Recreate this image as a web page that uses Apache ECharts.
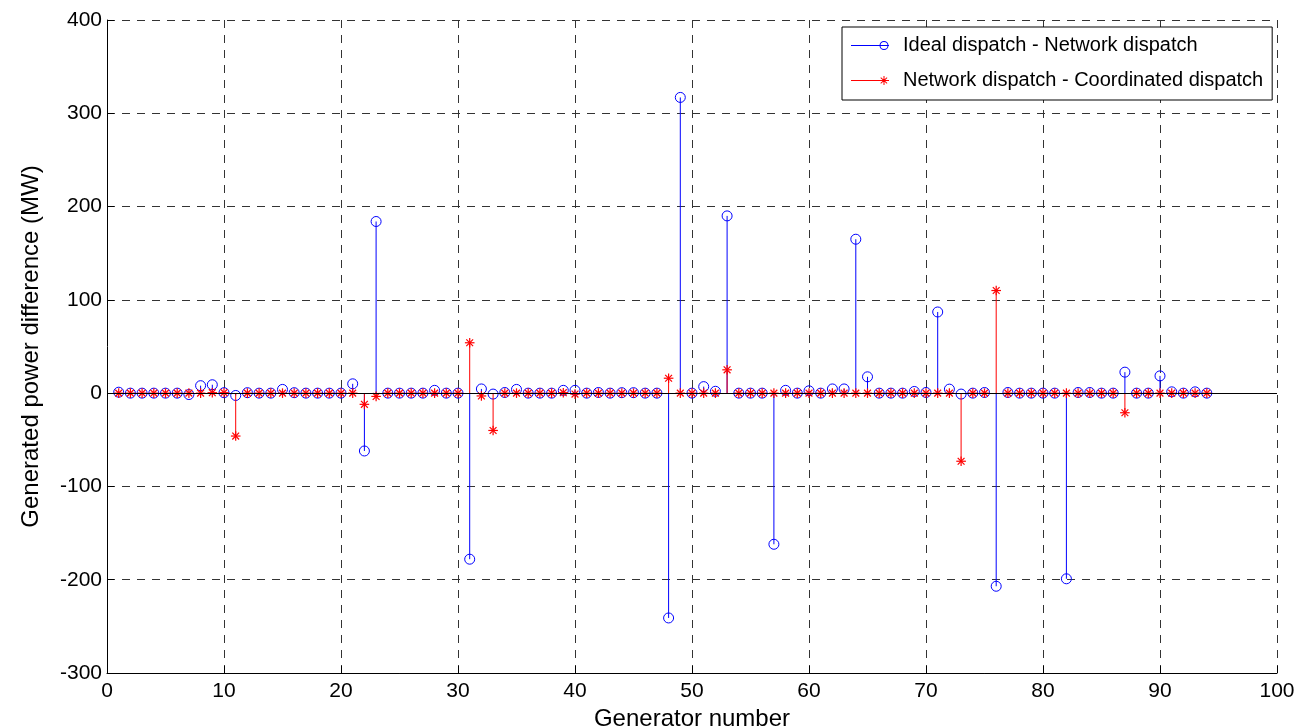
<!DOCTYPE html>
<html>
<head>
<meta charset="utf-8">
<script src="https://cdn.jsdelivr.net/npm/echarts@6/dist/echarts.min.js"></script>
<style>
html,body{margin:0;padding:0;background:#fff;}
#chart{width:1299px;height:727px;}
</style>
</head>
<body>
<div id="chart"></div>
<script>
// Generator numbers 1..94
const generators = [1,2,3,4,5,6,7,8,9,10,11,12,13,14,15,16,17,18,19,20,21,22,23,24,25,26,27,28,29,30,31,32,33,34,35,36,37,38,39,40,41,42,43,44,45,46,47,48,49,50,51,52,53,54,55,56,57,58,59,60,61,62,63,64,65,66,67,68,69,70,71,72,73,74,75,76,77,78,79,80,81,82,83,84,85,86,87,88,89,90,91,92,93,94];

// Ideal dispatch - Network dispatch (MW)
const idealMinusNetwork = [
  1, 0, 0, 0, 0, 0, -1.5, 8, 9, 0.5,
  -2.5, 0.5, 0, 0, 4, 0.5, 0, 0, 0, 0,
  10, -62, 184, 0, 0, 0, 0, 3, 0, 0,
  -178, 4.5, -1, 0.7, 4, 0, 0, 0, 3, 3,
  0, 0.7, 0, 0.5, 0.5, 0, 0, -241, 317, 0,
  7, 2, 190, 0, 0, 0, -162, 3, 0, 2.5,
  0, 4.5, 4.5, 165, 17.5, 0, 0, 0, 1.8, 0.7,
  87, 4.3, -1, 0, 0.7, -207, 0.7, 0, 0, 0,
  0, -199, 0.7, 0.7, 0, 0, 22.5, 0, 0, 18.5,
  1.4, 0, 1.4, 0
];

// Network dispatch - Coordinated dispatch (MW)
const networkMinusCoordinated = [
  0, 0, 0, 0, 0, 0, 0, 0, 0.5, 0.5,
  -46, 0, 0, 0, 0, 0, 0, 0, 0, 0,
  0, -12, -3.5, 0, 0, 0, 0, 0, 0, 0,
  54, -3, -40, 0, 0, 0, 0, 0, 0.5, -1,
  0, 0, 0, 0, 0, 0, 0, 16, 0, 0,
  0, 0, 25, 0, 0, 0, 0, 0, 0, 0,
  0, 0, 0, 0, 0, 0, 0, 0, 0, 0,
  0, 0, -73, 0, 0, 110, 0, 0, 0, 0,
  0, 0, 0, 0, 0, 0, -21, 0, 0, 0,
  0, 0, 0, 0
];

const xTicks = [0,10,20,30,40,50,60,70,80,90,100];
const yTicks = [-300,-200,-100,0,100,200,300,400];

const seriesNames = ['Ideal dispatch - Network dispatch', 'Network dispatch - Coordinated dispatch'];

const BLUE = '#0000ff', RED = '#ff0000';
const FONT = "'Liberation Sans', Arial, sans-serif";

// legend icons: line with marker near right end (38 x 10 box)
const bboxPts = 'M0,0L0.01,0L0.01,0.01Z M0,9.99L0.01,9.99L0.01,10Z ';
const lineRect = 'M0,5L38,5L38,6L0,6Z';
const blueIcon = 'path://' + bboxPts + lineRect +
  ' M37.5,5.5A4.5,4.5 0 1 1 28.5,5.5A4.5,4.5 0 1 1 37.5,5.5Z' +
  ' M36.5,5.5A3.5,3.5 0 1 0 29.5,5.5A3.5,3.5 0 1 0 36.5,5.5Z';
const redIcon = 'path://' + bboxPts + lineRect +
  ' M28.5,5L37.5,5L37.5,6L28.5,6Z M32.5,1L33.5,1L33.5,10L32.5,10Z' +
  ' M30.0,2.3L36.4,8.0L35.8,8.7L29.4,3.0Z M35.8,2.3L36.4,3.0L30.0,8.7L29.4,8.0Z';

function stemRender(color, marker) {
  return function (params, api) {
    const x = api.value(0), y = api.value(1);
    const p0 = api.coord([x, 0]);
    const p1 = api.coord([x, y]);
    const children = [{
      type: 'line',
      shape: {x1: p0[0], y1: p0[1], x2: p1[0], y2: p1[1]},
      style: {stroke: color, lineWidth: 1}
    }];
    if (marker === 'circle') {
      children.push({type: 'circle', shape: {cx: p1[0], cy: p1[1], r: 5},
        style: {fill: 'none', stroke: color, lineWidth: 1}});
    } else {
      const a = 4.8, d = 3.4;
      const segs = [[-a,0,a,0],[0,-a,0,a],[-d,-d,d,d],[-d,d,d,-d]];
      segs.forEach(s => children.push({type: 'line',
        shape: {x1: p1[0]+s[0], y1: p1[1]+s[1], x2: p1[0]+s[2], y2: p1[1]+s[3]},
        style: {stroke: color, lineWidth: 1.2}}));
    }
    return {type: 'group', children: children};
  };
}

const blueData = generators.map((g, i) => [g, idealMinusNetwork[i]]);
const redData = generators.map((g, i) => [g, networkMinusCoordinated[i]]);

const gridLine = {show: true, lineStyle: {color: '#333', type: [8, 7], width: 1}};

const option = {
  animation: false,
  backgroundColor: '#fff',
  grid: {left: 107, right: 22, top: 20, bottom: 54, outerBoundsMode: 'none', containLabel: false},
  legend: {
    orient: 'vertical',
    left: 842, top: 27,
    data: [
      {name: seriesNames[0], icon: blueIcon},
      {name: seriesNames[1], icon: redIcon}
    ],
    backgroundColor: '#fff',
    borderColor: '#000', borderWidth: 1,
    padding: [7, 9, 9, 9],
    itemWidth: 38, itemHeight: 10,
    itemGap: 13,
    textStyle: {fontSize: 20, color: '#000', fontFamily: FONT, lineHeight: 22, padding: [0, 0, 0, 9]},
    selectedMode: false
  },
  xAxis: {
    type: 'value', min: 0, max: 100, interval: 10,
    name: 'Generator number', nameLocation: 'middle', nameGap: 21,
    nameTextStyle: {fontSize: 24, color: '#000', fontFamily: FONT},
    axisLine: {show: true, onZero: false, lineStyle: {color: '#000', width: 1}},
    axisTick: {show: true, inside: true, length: 7, lineStyle: {color: '#000'}},
    axisLabel: {fontSize: 21, color: '#000', fontFamily: FONT, margin: 8,
      formatter: v => xTicks.includes(v) ? String(v) : ''},
    splitLine: gridLine
  },
  yAxis: {
    type: 'value', min: -300, max: 400, interval: 100,
    name: 'Generated power difference (MW)', nameLocation: 'middle', nameGap: 64,
    nameTextStyle: {fontSize: 24, color: '#000', fontFamily: FONT},
    axisLine: {show: true, lineStyle: {color: '#000', width: 1}},
    axisTick: {show: true, inside: true, length: 7, lineStyle: {color: '#000'}},
    axisLabel: {fontSize: 21, color: '#000', fontFamily: FONT, margin: 5,
      formatter: v => yTicks.includes(v) ? String(v) : ''},
    splitLine: gridLine
  },
  series: [
    {
      type: 'line', name: seriesNames[0], data: [],
      lineStyle: {color: BLUE, width: 1}, itemStyle: {color: BLUE}
    },
    {
      type: 'line', name: seriesNames[1], data: [],
      lineStyle: {color: RED, width: 1}, itemStyle: {color: RED}
    },
    {
      type: 'custom', name: 'blueStems', data: blueData,
      renderItem: stemRender(BLUE, 'circle'), silent: true, z: 3,
      markLine: {
        silent: true, symbol: 'none', animation: false,
        label: {show: false},
        lineStyle: {color: '#000', type: 'solid', width: 1},
        data: [{yAxis: 0}]
      }
    },
    {
      type: 'custom', name: 'redStems', data: redData,
      renderItem: stemRender(RED, 'star'), silent: true, z: 4
    }
  ]
};

const chart = echarts.init(document.getElementById('chart'), null, {renderer: 'canvas'});
chart.setOption(option);
</script>
</body>
</html>
